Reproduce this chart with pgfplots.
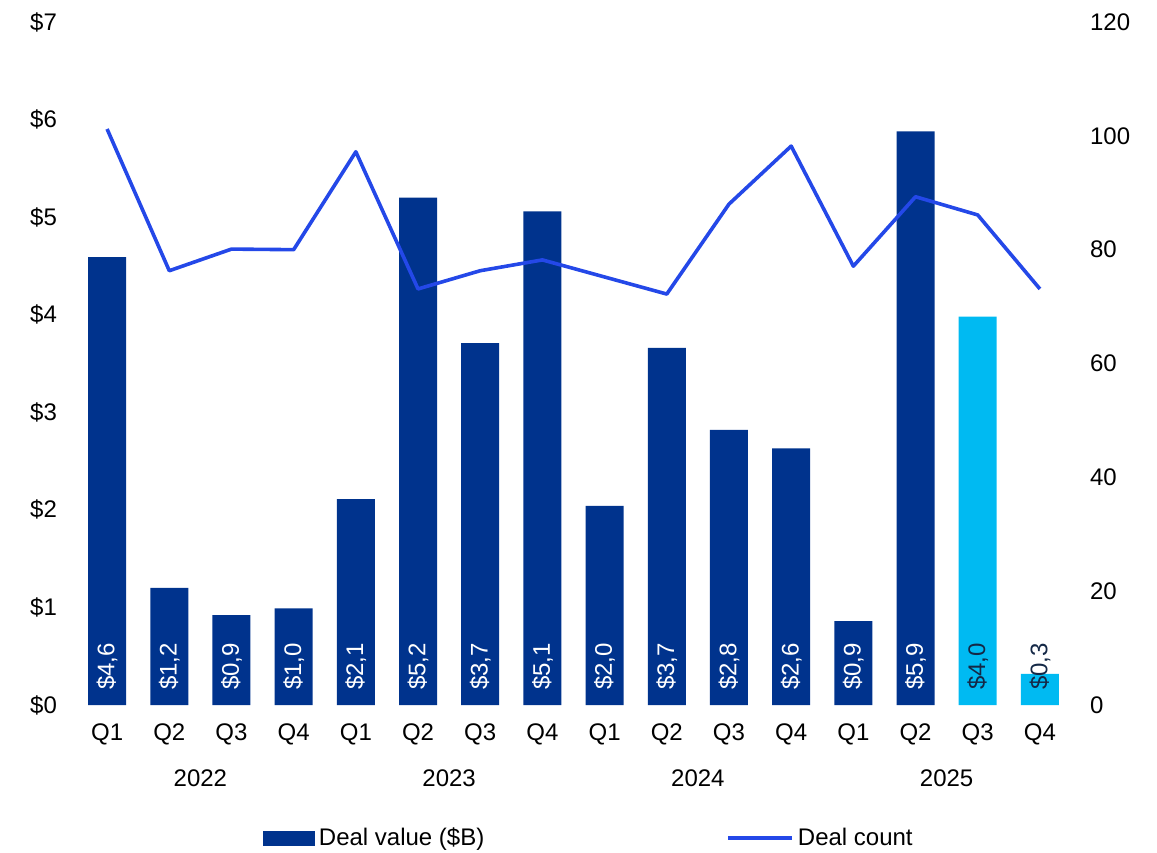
\documentclass[border=0pt]{standalone}
\usepackage{fontspec}
\setmainfont{Liberation Sans}
\usepackage{pgfplots}
\pgfplotsset{compat=1.18}
\usepackage{pgfplotstable}
\definecolor{navy}{RGB}{0,51,141}
\definecolor{sky}{RGB}{0,186,242}
\definecolor{lineblue}{RGB}{36,72,232}
\definecolor{darklab}{RGB}{20,40,70}

\pgfplotstableread{
x val lab
0 4.59 \$4,6
1 1.20 \$1,2
2 0.92 \$0,9
3 0.99 \$1,0
4 2.11 \$2,1
5 5.20 \$5,2
6 3.71 \$3,7
7 5.06 \$5,1
8 2.04 \$2,0
9 3.66 \$3,7
10 2.82 \$2,8
11 2.63 \$2,6
12 0.86 \$0,9
13 5.88 \$5,9
}\darkbars
\pgfplotstableread{
x val lab
14 3.98 \$4,0
15 0.32 \$0,3
}\lightbars
\pgfplotstableread{
x count
0 101.2
1 76.3
2 80.1
3 80.0
4 97.2
5 73.1
6 76.3
7 78.2
8 75.2
9 72.2
10 88.0
11 98.2
12 77.1
13 89.3
14 86.1
15 73.1
}\counts

\begin{document}
\begin{tikzpicture}
\path[use as bounding box] (-38pt,-73.5pt) rectangle (540.5pt,352.5pt);
\pgfplotsset{
  common/.style={
    at={(0,0)}, anchor=south west,
    scale only axis, width=497.5pt, height=341.5pt,
    xmin=-0.5, xmax=15.5,
    major tick length=0pt,
    axis line style={draw=none},
    tick label style={font=\fontsize{12}{14}\selectfont},
    /pgf/number format/assume math mode=true,
    clip=false,
  }
}
\begin{axis}[common,
  ymin=0, ymax=7,
  axis y line*=left, axis x line*=bottom,
  ytick={0,1,...,7},
  yticklabel={\$\pgfmathprintnumber{\tick}},
  yticklabel style={xshift=-6pt},
  xtick={0,1,...,15},
  xticklabels={Q1,Q2,Q3,Q4,Q1,Q2,Q3,Q4,Q1,Q2,Q3,Q4,Q1,Q2,Q3,Q4},
  xticklabel style={yshift=-6pt},
]
\addplot[ybar, bar width=19pt, bar shift=0pt, fill=navy, draw=none] table[x=x,y=val] {\darkbars};
\addplot[ybar, bar width=19pt, bar shift=0pt, fill=sky, draw=none] table[x=x,y=val] {\lightbars};
\addplot[draw=none, mark=none, nodes near coords, point meta=explicit symbolic,
  nodes near coords style={rotate=90, anchor=west, text=white, font=\fontsize{12}{14}\selectfont, xshift=4pt}]
  table[x=x, y expr=0, meta=lab] {\darkbars};
\addplot[draw=none, mark=none, nodes near coords, point meta=explicit symbolic,
  nodes near coords style={rotate=90, anchor=west, text=darklab, font=\fontsize{12}{14}\selectfont, xshift=4pt}]
  table[x=x, y expr=0, meta=lab] {\lightbars};
\node[font=\fontsize{12}{14}\selectfont] at (axis cs:1.5,0) [yshift=-36.5pt] {2022};
\node[font=\fontsize{12}{14}\selectfont] at (axis cs:5.5,0) [yshift=-36.5pt] {2023};
\node[font=\fontsize{12}{14}\selectfont] at (axis cs:9.5,0) [yshift=-36.5pt] {2024};
\node[font=\fontsize{12}{14}\selectfont] at (axis cs:13.5,0) [yshift=-36.5pt] {2025};
\end{axis}
\begin{axis}[common,
  ymin=0, ymax=120,
  axis y line*=right, axis x line=none,
  ytick={0,20,...,120},
  yticklabel style={xshift=6pt},
  legend style={draw=none, fill=none, at={(0.5165,-0.1947)}, anchor=center,
    legend columns=2, font=\fontsize{12}{14}\selectfont,
    /tikz/every even column/.append style={column sep=119pt}},
]
\addlegendimage{legend image code/.code={\fill[navy] (0pt,-3.5pt) rectangle (25.5pt,3.5pt);}}
\addlegendentry{Deal value (\$B)}
\addplot[lineblue, line width=1.8pt, mark=none, line join=round,
  legend image code/.code={\draw[lineblue, line width=1.8pt] (0pt,0pt) -- (32pt,0pt);}]
  table[x=x,y=count] {\counts};
\addlegendentry{Deal count}
\end{axis}
\end{tikzpicture}
\end{document}
